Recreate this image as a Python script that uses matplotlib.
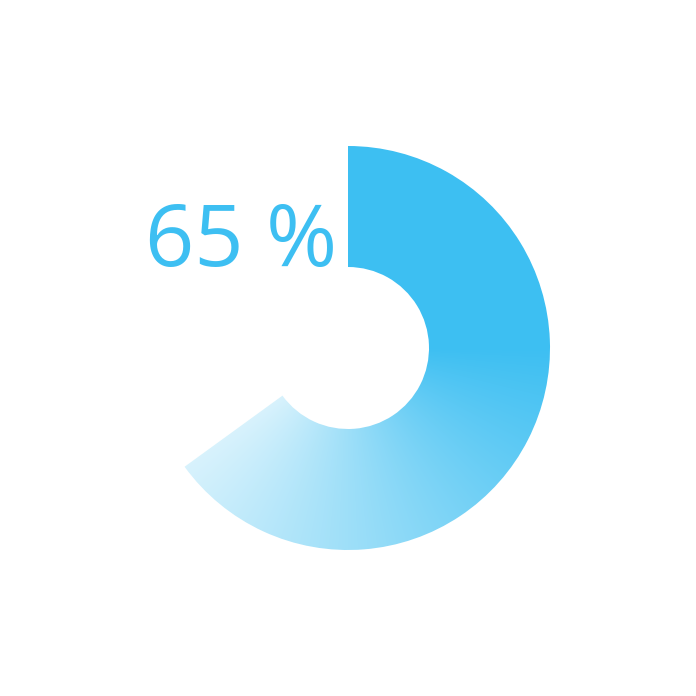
import matplotlib
matplotlib.use("Agg")
import matplotlib.pyplot as plt
from matplotlib.patches import Wedge
import numpy as np

# gauge data
value = 65
label = "65 %"

BLUE = np.array([61, 191, 242]) / 255.0
W = H = 696
cx, cy = 348, 348
r_out, r_in = 202, 81

fig = plt.figure(figsize=(6.96, 6.96), dpi=100)
ax = fig.add_axes([0, 0, 1, 1])
ax.set_xlim(0, W)
ax.set_ylim(H, 0)
ax.axis("off")

sweep = 360 * value / 100
wedge = Wedge((cx, cy), r_out, -90, -90 + sweep, width=r_out - r_in,
              facecolor="none", edgecolor="none")
ax.add_patch(wedge)

# conic fade: solid for the first quarter, then lighter towards the arc end
yy, xx = np.mgrid[0:H, 0:W] + 0.5
ang = np.degrees(np.arctan2(xx - cx, -(yy - cy))) % 360   # clockwise from top
t = np.clip((ang - 90) / (sweep - 90), 0, 1)
alpha = 1 - 0.8 * t
img = np.ones((H, W, 3)) * (1 - alpha[..., None]) + BLUE * alpha[..., None]
im = ax.imshow(img, extent=(0, W, H, 0), interpolation="bilinear", zorder=1)
im.set_clip_path(wedge)

ax.text(337, 266, label, ha="right", va="baseline", fontsize=62,
        family=["Open Sans", "DejaVu Sans"], color=BLUE)

fig.savefig("out.png", dpi=100)
